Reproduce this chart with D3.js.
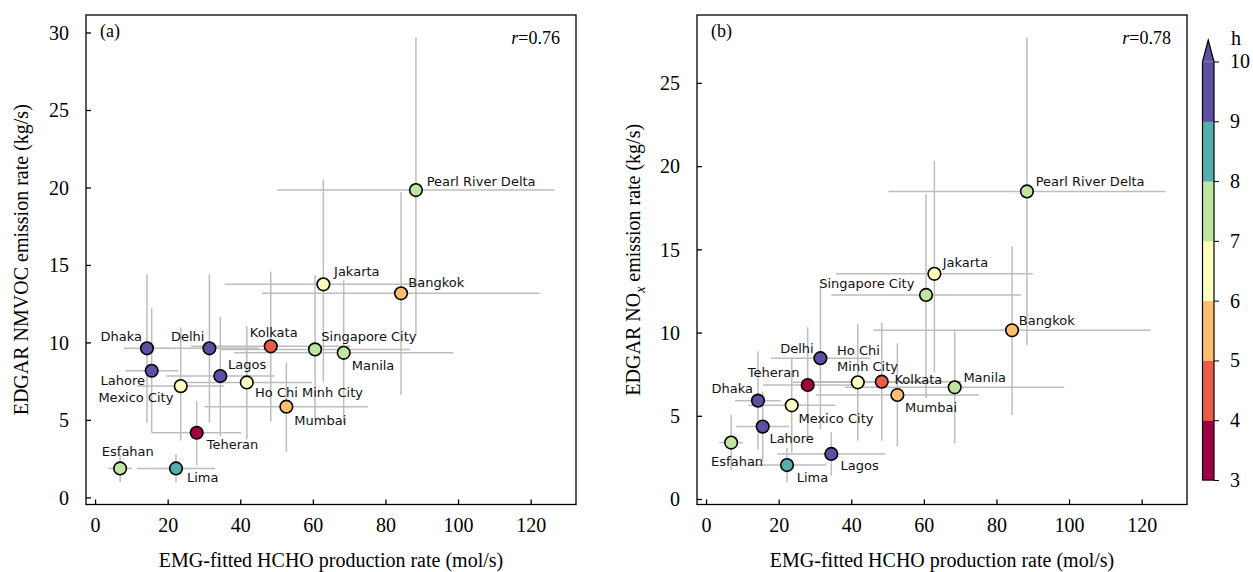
<!DOCTYPE html>
<html>
<head>
<meta charset="utf-8">
<script src="https://cdn.jsdelivr.net/npm/d3@7"></script>
<style>
  body { margin: 0; background: #fff; }
  svg { display: block; }
  .tick-label, .axis-title, .panel-tag { font-family: "Liberation Serif", "Times New Roman", serif; }
  .city { font-family: "DejaVu Sans", sans-serif; font-size: 13px; fill: #111; }
</style>
</head>
<body>
<svg width="1253" height="572"></svg>
<script>
// cities and their values (same x for both panels)
const cities = ["Pearl River Delta", "Jakarta", "Bangkok", "Kolkata", "Singapore City", "Manila",
  "Dhaka", "Delhi", "Lahore", "Lagos", "Mexico City", "Ho Chi Minh City", "Mumbai", "Teheran", "Esfahan", "Lima"];
const hchoRate = [88.4, 62.9, 84.3, 48.4, 60.6, 68.5, 14.3, 31.5, 15.6, 34.5, 23.6, 41.8, 52.7, 28.0, 6.9, 22.3];
const hchoErr  = [38.2, 27.1, 38.2, 22.0, 26.1, 30.2, 6.35, 13.6, 7.3, 14.9, 12.0, 18.0, 22.5, 12.3, 3.3, 10.8];
const lifetimeH = [7.5, 6.5, 5.5, 4.5, 7.5, 7.5, 9.5, 9.5, 9.5, 9.5, 6.5, 6.5, 5.5, 3.5, 7.5, 8.5];

const nmvoc      = [19.83, 13.75, 13.17, 9.75, 9.55, 9.33, 9.62, 9.62, 8.17, 7.83, 7.18, 7.42, 5.85, 4.17, 1.87, 1.87];
const nmvocErrLo = [9.35, 6.3, 6.55, 4.87, 4.45, 4.56, 4.8, 4.8, 4.0, 3.87, 3.52, 3.68, 2.91, 2.09, 0.9, 0.9];
const nmvocErrHi = [9.85, 6.77, 6.52, 4.82, 4.78, 4.66, 4.8, 4.8, 4.03, 3.83, 3.79, 3.63, 2.84, 2.04, 0.86, 0.93];

const nox      = [18.48, 13.53, 10.14, 7.05, 12.26, 6.71, 5.91, 8.46, 4.35, 2.71, 5.63, 7.01, 6.25, 6.85, 3.39, 2.04];
const noxErrLo = [9.23, 5.9, 5.09, 3.55, 6.2, 3.36, 2.95, 4.27, 2.1, 1.3, 2.83, 3.5, 3.1, 3.3, 1.65, 1.02];
const noxErrHi = [9.24, 6.77, 5.05, 3.55, 6.07, 3.36, 2.95, 4.41, 2.1, 1.3, 2.83, 3.5, 3.1, 3.47, 1.65, 1.02];

const xTicks = [0, 20, 40, 60, 80, 100, 120];
const yTicksA = [0, 5, 10, 15, 20, 25, 30];
const yTicksB = [0, 5, 10, 15, 20, 25];
const hBounds = [3, 4, 5, 6, 7, 8, 9, 10];
const hColors = ["#9e0142", "#e95d47", "#fdbe6f", "#ffffbe", "#bfe5a0", "#54aead", "#5e4fa2"];

// label placement (px offset from marker, anchor) for each city, panel a / panel b
const labelsA = [[10.7,-4,"start"],[10.7,-8.7,"start"],[7.3,-6.7,"start"],[3,-9,"middle"],[6.3,-8.7,"start"],[8,17.3,"start"],
  [-5,-7.7,"end"],[-5,-7.7,"end"],[-6.7,14.3,"end"],[7.7,-6.7,"start"],[-7.3,15.7,"end"],[8.3,14.3,"start"],
  [8,18.3,"start"],[10,16.3,"start"],[-18.3,-12.7,"start"],[11,14,"start"]];
const labelsB = [[8.7,-5.1,"start"],[8.3,-7.3,"start"],[6.7,-5.3,"start"],[12.7,2.7,"start"],[-11.7,-6.7,"end"],[8.7,-5.7,"start"],
  [-5,-8,"end"],[-6.7,-5,"end"],[6.7,16.7,"start"],[9.3,16,"start"],[6.7,17.3,"start"],[-20.7,-27.3,"start"],
  [7.7,16.7,"start"],[-8.3,-8.3,"end"],[-20,23.3,"start"],[9.7,17.3,"start"]];
const labelTextB = cities.map(c => c === "Ho Chi Minh City" ? ["Ho Chi", "Minh City"] : [c]);

const svg = d3.select("svg");
const color = d3.scaleThreshold().domain(hBounds.slice(1, -1)).range(hColors);

function panel(opt) {
  const x = d3.scaleLinear().domain([-2.5, 132.5]).range([opt.left, opt.right]);
  const y = d3.scaleLinear().domain(opt.yDomain).range([opt.bottom, opt.top]);
  const g = svg.append("g");

  // error bars
  const eb = g.append("g").attr("stroke", "#bdbdbd").attr("stroke-width", 1.5);
  cities.forEach((c, i) => {
    eb.append("line")
      .attr("x1", x(hchoRate[i] - hchoErr[i])).attr("x2", x(hchoRate[i] + hchoErr[i]))
      .attr("y1", y(opt.vals[i])).attr("y2", y(opt.vals[i]));
    eb.append("line")
      .attr("x1", x(hchoRate[i])).attr("x2", x(hchoRate[i]))
      .attr("y1", y(opt.vals[i] - opt.lo[i])).attr("y2", y(opt.vals[i] + opt.hi[i]));
  });

  // markers
  g.selectAll(".pt").data(cities).join("circle")
    .attr("cx", (d, i) => x(hchoRate[i]))
    .attr("cy", (d, i) => y(opt.vals[i]))
    .attr("r", 6.3)
    .attr("fill", (d, i) => color(lifetimeH[i]))
    .attr("stroke", "#000").attr("stroke-width", 1.6);

  // city labels
  cities.forEach((c, i) => {
    const [dx, dy, anchor] = opt.labels[i];
    const lines = opt.texts ? opt.texts[i] : [c];
    const t = g.append("text").attr("class", "city")
      .attr("x", x(hchoRate[i]) + dx).attr("y", y(opt.vals[i]) + dy)
      .attr("text-anchor", anchor);
    lines.forEach((s, k) => t.append("tspan")
      .attr("x", x(hchoRate[i]) + dx).attr("dy", k ? 15.7 : 0).text(s));
  });

  // frame
  g.append("rect").attr("x", opt.left).attr("y", opt.top)
    .attr("width", opt.right - opt.left).attr("height", opt.bottom - opt.top)
    .attr("fill", "none").attr("stroke", "#000").attr("stroke-width", 1.3);

  // ticks (inward)
  const xa = g.append("g").attr("transform", `translate(0,${opt.bottom})`)
    .call(d3.axisBottom(x).tickValues(xTicks).tickSizeInner(-5).tickSizeOuter(0).tickPadding(13));
  const ya = g.append("g").attr("transform", `translate(${opt.left},0)`)
    .call(d3.axisLeft(y).tickValues(opt.yTicks).tickSizeInner(-5).tickSizeOuter(0).tickPadding(17));
  [xa, ya].forEach(a => {
    a.select(".domain").remove();
    a.selectAll(".tick line").attr("stroke-width", 1.3);
    a.selectAll(".tick text").attr("class", "tick-label").attr("font-size", 20).attr("fill", "#000");
  });
  ya.selectAll(".tick text").attr("dy", "0.34em");
  xa.selectAll(".tick text").attr("dy", "0.71em");

  // titles
  g.append("text").attr("class", "axis-title").attr("font-size", 20)
    .attr("x", (opt.left + opt.right) / 2).attr("y", 567).attr("text-anchor", "middle")
    .text("EMG-fitted HCHO production rate (mol/s)");
  const yt = g.append("text").attr("class", "axis-title").attr("font-size", 20)
    .attr("text-anchor", "middle")
    .attr("transform", `translate(${opt.yTitleX},${(opt.top + opt.bottom) / 2}) rotate(-90)`);
  opt.yTitle(yt);

  g.append("text").attr("class", "panel-tag").attr("font-size", 18)
    .attr("x", opt.left + 14).attr("y", 37).text(opt.tag);
  const r = g.append("text").attr("class", "panel-tag").attr("font-size", 18)
    .attr("x", opt.right - 16).attr("y", 44).attr("text-anchor", "end");
  r.append("tspan").attr("font-style", "italic").text("r");
  r.append("tspan").text("=" + opt.r);
}

panel({
  left: 86, right: 576, top: 15, bottom: 504.5, yDomain: [-0.46, 31.13], yTicks: yTicksA,
  vals: nmvoc, lo: nmvocErrLo, hi: nmvocErrHi, labels: labelsA, tag: "(a)", r: "0.76", yTitleX: 28,
  yTitle: t => t.text("EDGAR NMVOC emission rate (kg/s)")
});
panel({
  left: 697, right: 1187, top: 15, bottom: 504.5, yDomain: [-0.33, 29.08], yTicks: yTicksB,
  vals: nox, lo: noxErrLo, hi: noxErrHi, labels: labelsB, texts: labelTextB, tag: "(b)", r: "0.78", yTitleX: 640,
  yTitle: t => {
    t.append("tspan").text("EDGAR NO");
    t.append("tspan").attr("font-style", "italic").attr("font-size", 14).attr("dy", 5).text("x");
    t.append("tspan").attr("dy", -5).text(" emission rate (kg/s)");
  }
});

// colorbar
const cb = svg.append("g");
const cx0 = 1202.5, cw = 11.5;
const cy = d3.scaleLinear().domain([3, 10]).range([480, 61.5]);
hColors.forEach((c, i) => {
  cb.append("rect").attr("x", cx0).attr("width", cw)
    .attr("y", cy(hBounds[i + 1])).attr("height", cy(hBounds[i]) - cy(hBounds[i + 1]) + 0.5)
    .attr("fill", c);
});
cb.append("path")
  .attr("d", `M${cx0},${cy(10)}L${cx0 + cw / 2},40L${cx0 + cw},${cy(10)}Z`)
  .attr("fill", hColors[hColors.length - 1]);
cb.append("path")
  .attr("d", `M${cx0},${cy(3)}L${cx0},${cy(10)}L${cx0 + cw / 2},40L${cx0 + cw},${cy(10)}L${cx0 + cw},${cy(3)}Z`)
  .attr("fill", "none").attr("stroke", "#000").attr("stroke-width", 1.2);
const ca = cb.append("g").attr("transform", `translate(${cx0 + cw},0)`)
  .call(d3.axisRight(cy).tickValues(hBounds).tickSize(5).tickPadding(11).tickFormat(d3.format("d")));
ca.select(".domain").remove();
ca.selectAll(".tick text").attr("class", "tick-label").attr("font-size", 20).attr("fill", "#000");
cb.append("text").attr("class", "tick-label").attr("font-size", 20)
  .attr("x", 1231).attr("y", 45).text("h");
</script>
</body>
</html>
